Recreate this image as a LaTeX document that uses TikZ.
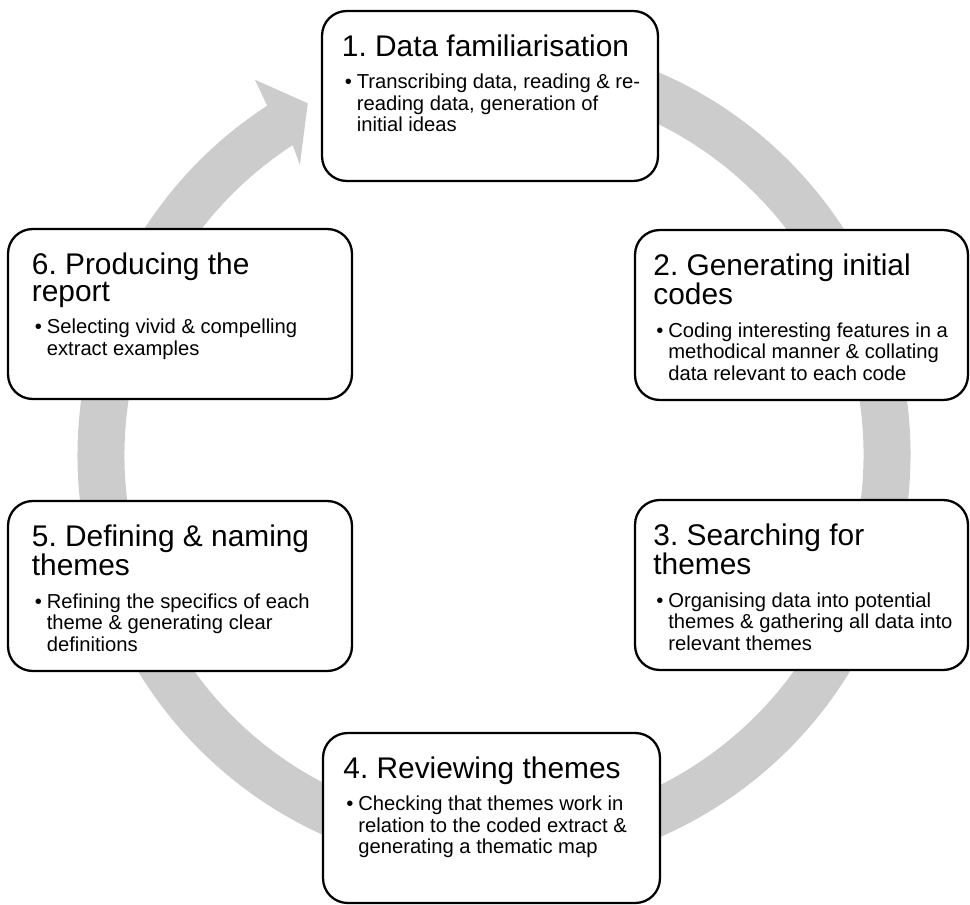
\documentclass[tikz,border=0pt]{standalone}
\usepackage{xcolor}
\usepackage{fontspec}
\setmainfont{Liberation Sans}
\usepackage{tikz}
\frenchspacing

\definecolor{cyclegray}{HTML}{CCCCCC}

% title and bullet text of one stage box
\newcommand{\stagetext}[2]{%
  \parbox[t][3.4cm][t]{6.6cm}{%
    \vspace*{13.4pt}%
    \leftskip=9.6pt\rightskip=0pt plus 1fil
    {\fontsize{17}{15.5}\selectfont #1\par}%
    \vspace{6.3pt}%
    {\fontsize{11.5}{12.2}\selectfont\leftskip=18.1pt
      \noindent\llap{\textbullet\hspace{2.8pt}}#2\par}}}

\begin{document}
\begin{tikzpicture}[x=0.02cm, y=-0.02cm,
    stage/.style={draw=black, fill=white, line width=1.3pt, rounded corners=14pt, inner sep=0pt}]
  \useasboundingbox (0,0) rectangle (970,905);  % keep the margins of the page

  %% cycle arrow
  \begin{scope}[shift={(494,455)}, y=0.02cm]
    \fill[cyclegray] (85:416.5) arc[start angle=85, end angle=-237, radius=416.5]
      -- (-237.5:445) -- (-242.1:398) -- (-236.2:349) -- (-237:369.5)
      arc[start angle=-237, end angle=85, radius=369.5] -- cycle;
  \end{scope}

  %% stages
  \draw(490,96) node[stage, minimum width=6.72cm] (stage1)
    {\stagetext{1. Data familiarisation}{Transcribing data, reading \& re-\\reading data, generation of\\initial ideas}};
  \draw(801.5,315) node[stage, minimum width=6.66cm] (stage2)
    {\stagetext{2. Generating initial\\codes}{Coding interesting features in a\\methodical manner \& collating\\data relevant to each code}};
  \draw(801.5,585) node[stage, minimum width=6.66cm] (stage3)
    {\stagetext{3. Searching for\\themes}{Organising data into potential\\themes \& gathering all data into\\relevant themes}};
  \draw(491.5,818) node[stage, minimum width=6.74cm] (stage4)
    {\stagetext{4. Reviewing themes}{Checking that themes work in\\relation to the coded extract \&\\generating a thematic map}};
  \draw(180,586) node[stage, minimum width=6.88cm] (stage5)
    {\stagetext{5. Defining \& naming\\themes}{Refining the specifics of each\\theme \& generating clear\\definitions}};
  \draw(180,314) node[stage, minimum width=6.88cm] (stage6)
    {\stagetext{6. Producing the\\report}{Selecting vivid \& compelling\\extract examples}};
\end{tikzpicture}
\end{document}
